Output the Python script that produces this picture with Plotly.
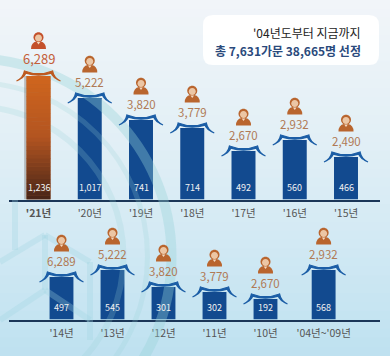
import plotly.graph_objects as go

# ---------- data ----------
row1_years = ["'21년", "'20년", "'19년", "'18년", "'17년", "'16년", "'15년"]
row1_people = ["6,289", "5,222", "3,820", "3,779", "2,670", "2,932", "2,490"]
row1_families = ["1,236", "1,017", "741", "714", "492", "560", "466"]
row1_bar_heights = [123.5, 101.5, 79.5, 71.5, 48.5, 59.5, 42.5]

row2_years = ["'14년", "'13년", "'12년", "'11년", "'10년", "'04년~'09년"]
row2_people = ["6,289", "5,222", "3,820", "3,779", "2,670", "2,932"]
row2_families = ["497", "545", "301", "302", "192", "568"]
row2_bar_heights = [42.5, 49.5, 32.5, 27.5, 20.5, 49.5]

title_line1 = "'04년도부터 지금까지"
title_line2 = "총 7,631가문 38,665명 선정"

# ---------- layout constants ----------
W, H = 390, 356
FONT = "Noto Sans CJK KR"
BLUE, ROOF_BLUE = "#124a8f", "#1c5ea6"
ORANGE, ROOF_ORANGE = "#b9652e", "#bd5a20"
LABEL = "#b07a55"
AXIS = "#1b3658"
row1_pos = list(range(7))
row2_pos = [0, 1, 2, 3, 4, 5.14]
BASE1, BASE2 = 199.5, 319.5


def lerp(c0, c1, t):
    return "rgb(" + ",".join(str(round(a + (b - a) * t)) for a, b in zip(c0, c1)) + ")"


shapes = []
# background gradient
stops = [(0, (241, 245, 249)), (0.35, (228, 240, 246)), (0.65, (212, 234, 244)), (1, (190, 225, 240))]
N = 40
for i in range(N):
    t = (i + 0.5) / N
    for (a, ca), (b, cb) in zip(stops, stops[1:]):
        if a <= t <= b:
            col = lerp(ca, cb, (t - a) / (b - a))
            break
    shapes.append(dict(type="rect", xref="paper", yref="paper", x0=0, x1=1,
                       y0=1 - (i + 1) / N - 0.002, y1=1 - i / N + 0.002,
                       fillcolor=col, line_width=0, layer="below"))


def circle_path(cx, cy, r):
    k = 0.5523 * r
    return (f"M {cx - r} {cy} C {cx - r} {cy - k} {cx - k} {cy - r} {cx} {cy - r} "
            f"C {cx + k} {cy - r} {cx + r} {cy - k} {cx + r} {cy} "
            f"C {cx + r} {cy + k} {cx + k} {cy + r} {cx} {cy + r} "
            f"C {cx - k} {cy + r} {cx - r} {cy + k} {cx - r} {cy} Z")


# faint background ornament (pixel coordinates of the page, decoration only)
for cx, cy, r, w, a in [(-26.5, 256.5, 198, 10, 0.36), (-26.5, 256.5, 174, 5, 0.22), (-26.5, 256.5, 150, 6, 0.22)]:
    shapes.append(dict(type="path", xref="x3", yref="y3", path=circle_path(cx, -cy, r),
                       line=dict(color=f"rgba(150,210,215,{a})", width=w), layer="below"))
ORN2 = "rgba(160,212,225,0.30)"
for a, b in [((0, 262), (45, 235)), ((45, 235), (90, 262)), ((90, 262), (90, 340)),
             ((15, 200), (15, 250)), ((45, 235), (45, 290)), ((45, 290), (0, 320)), ((45, 290), (90, 320))]:
    shapes.append(dict(type="line", xref="x3", yref="y3", x0=a[0], y0=-a[1], x1=b[0], y1=-b[1],
                       line=dict(color=ORN2, width=6), layer="below"))

# title panel
shapes.append(dict(type="path", xref="x3", yref="y3", layer="below", fillcolor="rgba(255,255,255,0.95)",
                   line_width=0,
                   path="M 213 -15 L 369 -15 Q 379 -15 379 -25 L 379 -55 Q 379 -65 369 -65 "
                        "L 213 -65 Q 203 -65 203 -55 L 203 -25 Q 203 -15 213 -15 Z"))


def roof(xa, ya, xanchor, yanchor, color):
    path = ("M -22 -5 Q -15.5 -2.5 -14 5 Q 0 -0.5 14 5 Q 15.5 -2.5 22 -5 "
            "Q 14 -1.5 12.8 2.8 Q 0 -1.2 -12.8 2.8 Q -14 -1.5 -22 -5 Z")
    shapes.append(dict(type="path", xref=xa, yref=ya, xsizemode="pixel", ysizemode="pixel",
                       xanchor=xanchor, yanchor=yanchor, path=path, fillcolor=color,
                       line=dict(color=color, width=1.3)))


def person(xa, ya, xanchor, yanchor, shift, color):
    """Pixel-sized icon centred `shift` pixels above the anchor."""
    common = dict(type="path", xref=xa, yref=ya, xsizemode="pixel", ysizemode="pixel",
                  xanchor=xanchor, yanchor=yanchor, line_width=0)
    s = shift
    shapes.append(dict(common, fillcolor=color,
                       path=f"M -7.5 {s - 8.5} Q -7.5 {s - 2} -2 {s - 1} L 2 {s - 1} Q 7.5 {s - 2} 7.5 {s - 8.5} Z"))
    shapes.append(dict(common, fillcolor=color, path=circle_path(0, s + 3.2, 5)))
    shapes.append(dict(common, fillcolor="#ecc6a4", path=circle_path(0, s + 2.4, 3.5)))
    shapes.append(dict(common, fillcolor="#f3d9c2",
                       path=f"M -1.8 {s - 1.5} L 0 {s - 4} L 1.8 {s - 1.5} Z"))


fig = go.Figure()
annotations = []


def add_row(years, people, families, heights, pos, xa, ya, first_accent):
    colors = [BLUE] * len(pos)
    if first_accent:
        colors[0] = ORANGE
    fig.add_trace(go.Bar(x=pos, y=heights, width=0.468, marker=dict(color=colors, line_width=0),
                         xaxis=xa, yaxis=ya, showlegend=False, hoverinfo="skip"))
    for i, (p, h) in enumerate(zip(pos, heights)):
        accent = first_accent and i == 0
        if accent:
            shapes.append(dict(type="rect", xref=xa, yref=ya, x0=p - 0.28, x1=p - 0.234, y0=0, y1=h,
                               fillcolor="rgba(70,50,40,0.28)", line_width=0))
            gs = [(0, (208, 102, 30)), (0.5, (178, 84, 32)), (1, (70, 36, 24))]
            n = 30
            for k in range(n):
                t = (k + 0.5) / n
                col = lerp(gs[0][1], gs[1][1], t / 0.5) if t < 0.5 else lerp(gs[1][1], gs[2][1], (t - 0.5) / 0.5)
                shapes.append(dict(type="rect", xref=xa, yref=ya, x0=p - 0.234, x1=p + 0.234,
                                   y0=h * (1 - (k + 1) / n) - 0.3, y1=h * (1 - k / n),
                                   fillcolor=col, line_width=0))
        roof(xa, ya, p, h, ROOF_ORANGE if accent else ROOF_BLUE)
        lab_shift = 18 if accent else 16.5
        person(xa, ya, p, h, lab_shift + 17.5, "#c4512c" if accent else ORANGE)
        annotations.append(dict(x=p, y=h, xref=xa, yref=ya, yshift=lab_shift, text=people[i],
                                showarrow=False, yanchor="middle",
                                font=dict(family=FONT, size=13 if accent else 11.5,
                                          color="#c4603a" if accent else LABEL)))
        annotations.append(dict(x=p, y=0, xref=xa, yref=ya, yshift=12.5, text=families[i],
                                showarrow=False, yanchor="middle",
                                font=dict(family=FONT, size=9, color="#f2f2f2")))


add_row(row1_years, row1_people, row1_families, row1_bar_heights, row1_pos, "x", "y", True)
add_row(row2_years, row2_people, row2_families, row2_bar_heights, row2_pos, "x2", "y2", False)

annotations.append(dict(xref="x3", yref="y3", x=363, y=-32, text=title_line1, showarrow=False, xanchor="right",
                        yanchor="middle", font=dict(family=FONT, size=12, color="#222222")))
annotations.append(dict(xref="x3", yref="y3", x=363, y=-50, text=f"<b>{title_line2}</b>", showarrow=False,
                        xanchor="right", yanchor="middle", font=dict(family=FONT, size=12, color="#2a4a7c")))

row1_ticktext = [f"<b>{row1_years[0]}</b>"] + row1_years[1:]


def xaxis_cfg(rng, tv, tt, anchor):
    return dict(domain=[9 / W, 380 / W], range=rng, tickmode="array", tickvals=tv, ticktext=tt, anchor=anchor,
                showgrid=False, zeroline=False, showline=True, linecolor=AXIS, linewidth=1.6, ticks="",
                ticklabelstandoff=3,
                tickfont=dict(family=FONT, size=10.5, color="#555555"), fixedrange=True)


def yaxis_cfg(dom, rng, anchor):
    return dict(domain=dom, range=rng, visible=False, anchor=anchor, fixedrange=True)


s1 = 51.25
s2 = 51.0
fig.update_layout(
    width=W, height=H, margin=dict(l=0, r=0, t=0, b=0), autosize=False,
    paper_bgcolor="#dcebf3", plot_bgcolor="rgba(0,0,0,0)", showlegend=False, barmode="overlay",
    xaxis=xaxis_cfg([-(38.5 - 9) / s1, 6 + (380 - 346) / s1], row1_pos, row1_ticktext, "y"),
    yaxis=yaxis_cfg([1 - BASE1 / H, 1], [0, BASE1], "x"),
    xaxis2=xaxis_cfg([-(61.5 - 9) / s2, (380 - 61.5) / s2], row2_pos, row2_years, "y2"),
    yaxis2=yaxis_cfg([1 - BASE2 / H, 1 - 215 / H], [0, BASE2 - 215], "x2"),
    # page-pixel axes used for the panel and background ornament
    xaxis3=dict(domain=[0, 1], range=[0, W], visible=False, anchor="y3", fixedrange=True),
    yaxis3=dict(domain=[0, 1], range=[-H, 0], visible=False, anchor="x3", fixedrange=True),
    shapes=shapes, annotations=annotations,
)
fig.add_trace(go.Scatter(x=[0], y=[0], xaxis="x3", yaxis="y3", mode="markers", marker=dict(opacity=0),
                         showlegend=False, hoverinfo="skip"))
fig.write_html("out.html", config=dict(displayModeBar=False),
               post_script="document.body.style.margin='0';document.documentElement.style.background='#dcebf3';")
